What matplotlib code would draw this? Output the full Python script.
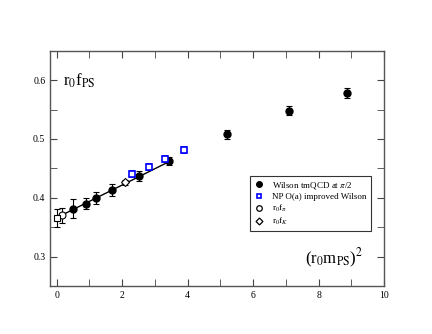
import numpy as np
import matplotlib
matplotlib.use('Agg')
import matplotlib.pyplot as plt
from matplotlib.ticker import MultipleLocator
from matplotlib.lines import Line2D

plt.rcParams['font.family'] = ['Liberation Serif', 'DejaVu Serif']
plt.rcParams['mathtext.fontset'] = 'stix'

# Wilson tmQCD at pi/2
tm_x = [0.49, 0.90, 1.21, 1.70, 2.51, 3.42, 5.20, 7.09, 8.88]
tm_y = [0.381, 0.390, 0.399, 0.413, 0.437, 0.462, 0.508, 0.548, 0.578]
tm_err = [0.016, 0.010, 0.010, 0.010, 0.008, 0.007, 0.008, 0.008, 0.008]

# NP O(a) improved Wilson
np_x = [2.30, 2.81, 3.30, 3.90]
np_y = [0.440, 0.453, 0.466, 0.481]
np_err = [0.005, 0.005, 0.005, 0.005]

# r0 f_pi
fpi_x = [0.16]
fpi_y = [0.370]
fpi_err = [0.013]

# r0 f_K
fk_x = [2.10]
fk_y = [0.426]
fk_err = [0.004]

# chiral limit point
chi_x = [0.0]
chi_y = [0.365]
chi_err = [0.015]

# linear fit
fit_x = [0.0, 3.42]
fit_y = [0.366, 0.461]

fig = plt.figure(figsize=(4.32, 3.34), dpi=100)
ax = fig.add_axes([0.116, 0.144, 0.773, 0.704])

ax.plot(fit_x, fit_y, color='black', lw=1.0, zorder=1)

eb = dict(capsize=2, elinewidth=0.8, capthick=0.8)
ax.errorbar(tm_x, tm_y, yerr=tm_err, fmt='o', color='black', ms=5, zorder=3, **eb)
ax.errorbar(np_x, np_y, yerr=np_err, fmt='s', color='blue', mfc='white',
            mec='blue', mew=1.2, ms=4, zorder=3, **eb)
ax.errorbar(fpi_x, fpi_y, yerr=fpi_err, fmt='o', color='black', mfc='white',
            ms=5, mew=0.8, zorder=4, **eb)
ax.errorbar(fk_x, fk_y, yerr=fk_err, fmt='D', color='black', mfc='white',
            ms=4, mew=0.8, zorder=4, **eb)
ax.errorbar(chi_x, chi_y, yerr=chi_err, fmt='s', color='black', mfc='white',
            ms=4.5, mew=0.8, zorder=4, **eb)

ax.set_xlim(-0.2, 10)
ax.set_ylim(0.25, 0.65)
ax.xaxis.set_major_locator(MultipleLocator(2))
ax.xaxis.set_minor_locator(MultipleLocator(1))
ax.yaxis.set_major_locator(MultipleLocator(0.1))
ax.yaxis.set_minor_locator(MultipleLocator(0.05))
ax.tick_params(which='both', direction='in', top=True, right=True,
               labelsize=7, color='#444444', length=5)
for sp in ax.spines.values():
    sp.set_color('#555555')
    sp.set_linewidth(1.0)

ax.text(0.2, 0.59, r'r$_0$f$_{\mathrm{PS}}$', fontsize=12)
ax.text(7.58, 0.288, r'(r$_0$m$_{\mathrm{PS}}$)$^2$', fontsize=12)

handles = [
    Line2D([], [], ls='none', marker='o', color='black', ms=4),
    Line2D([], [], ls='none', marker='s', mfc='white', mec='blue', mew=1.2, ms=3.5),
    Line2D([], [], ls='none', marker='o', mfc='white', mec='black', mew=0.9, ms=4),
    Line2D([], [], ls='none', marker='D', mfc='white', mec='black', mew=0.9, ms=3.5),
]
labels = [r'Wilson tmQCD at $\pi$/2', 'NP O(a) improved Wilson',
          r'r$_0$f$_\pi$', r'r$_0$f$_K$']
leg = ax.legend(handles, labels, loc='upper left', bbox_to_anchor=(0.585, 0.488),
                fontsize=6.5, frameon=True, fancybox=False, edgecolor='black',
                handletextpad=0.8, borderpad=0.45, labelspacing=0.2,
                handlelength=1.2)
leg.get_frame().set_linewidth(0.8)

fig.savefig('out.png', dpi=100)
